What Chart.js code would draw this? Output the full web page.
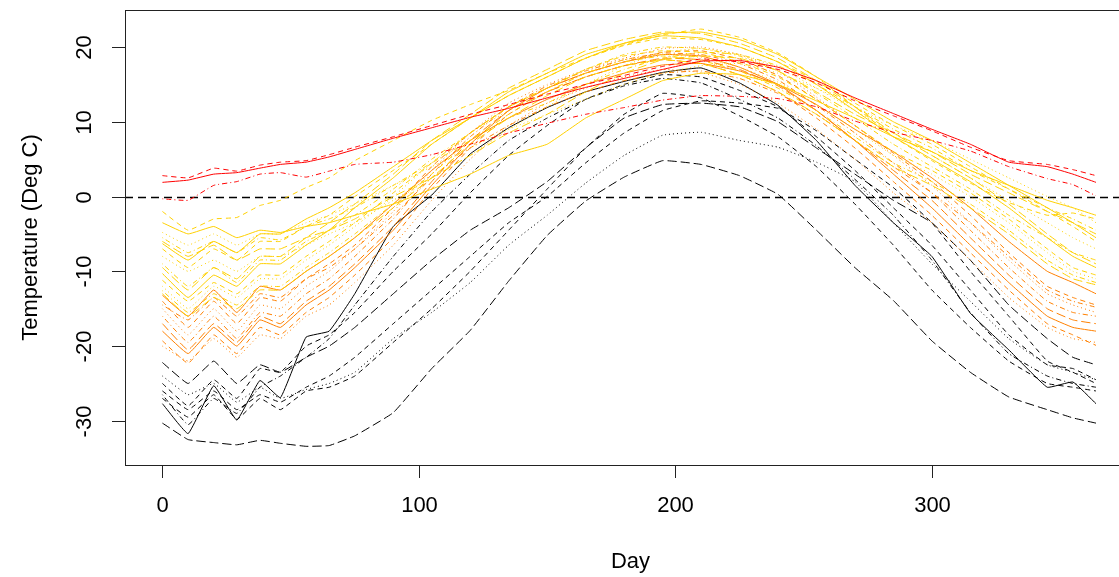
<!DOCTYPE html>
<html>
<head>
<meta charset="utf-8">
<script src="https://cdn.jsdelivr.net/npm/chart.js"></script>
<style>
  html, body { margin: 0; padding: 0; background: #fff; overflow: hidden; }
  #wrap { width: 1119px; height: 577px; overflow: hidden; }
</style>
</head>
<body>
<div id="wrap"><canvas id="c" width="1150" height="577"></canvas></div>
<script>
// sample days (x values shared by every curve)
const days = [0, 10, 20, 29, 38, 46, 56, 65, 75, 90, 105, 120, 135, 150, 165, 180, 195, 210, 225, 240, 255, 270, 285, 300, 315, 330, 345, 355, 364];

// red group
const victoria   = [1.9, 2.2, 3.0, 3.2, 3.8, 4.3, 4.6, 5.3, 6.3, 7.8, 9.2, 10.6, 11.8, 13.2, 14.6, 15.8, 17.0, 18.1, 18.2, 17.3, 15.5, 13.2, 11.1, 9.0, 7.0, 4.6, 4.0, 3.0, 1.9];
const vancouver  = [2.8, 2.5, 3.8, 3.4, 4.2, 4.6, 4.8, 5.6, 6.6, 8.0, 9.5, 11.0, 12.3, 13.7, 15.0, 16.2, 17.4, 18.4, 18.0, 17.0, 15.2, 12.8, 10.8, 8.8, 6.6, 4.8, 4.3, 3.6, 2.8];
const prRupert   = [-0.3, -0.5, 1.5, 2.0, 3.0, 3.2, 2.6, 3.4, 4.3, 4.6, 5.6, 7.0, 8.5, 9.8, 11.0, 11.9, 12.9, 13.5, 13.4, 13.1, 12.0, 10.1, 8.6, 7.5, 6.1, 4.0, 2.4, 1.6, 0.1];

// yellow group
const kamloops   = [-2.0, -4.5, -3.0, -2.8, -1.2, -0.5, 1.2, 2.5, 4.8, 7.5, 10.2, 12.3, 14.2, 16.5, 18.5, 20.3, 21.6, 22.4, 21.3, 19.2, 16.0, 12.0, 8.0, 4.8, 1.8, -0.8, -2.5, -2.2, -3.0];
const stJohns    = [-3.5, -5.0, -4.0, -5.5, -4.5, -4.8, -4.0, -3.5, -2.5, -1.0, 1.0, 3.0, 5.5, 7.0, 10.5, 13.0, 15.5, 16.5, 16.3, 15.0, 12.8, 10.5, 8.0, 6.0, 3.5, 1.5, -0.5, -1.5, -2.5];
const yarmouth   = [-4.8, -6.5, -5.0, -6.5, -5.0, -5.0, -3.5, -2.5, -1.0, 1.5, 4.0, 6.5, 9.0, 11.0, 13.0, 15.0, 16.5, 17.5, 17.8, 16.5, 14.5, 12.0, 9.5, 7.5, 5.0, 2.5, 0.0, -1.5, -3.5];
const halifax    = [-5.5, -7.5, -6.0, -7.5, -5.5, -5.8, -4.0, -3.0, -1.5, 1.5, 4.5, 7.5, 10.5, 12.5, 15.0, 17.0, 18.5, 19.3, 19.0, 17.5, 15.0, 12.0, 9.0, 6.5, 3.5, 1.0, -1.5, -3.0, -4.5];
const sydney     = [-6.0, -8.0, -6.5, -8.5, -7.0, -7.0, -5.5, -4.5, -3.0, 0.0, 2.5, 5.5, 8.5, 11.0, 14.0, 16.5, 18.3, 18.8, 18.5, 16.8, 14.0, 11.0, 8.5, 6.0, 3.0, 0.5, -2.0, -3.5, -5.0];
const toronto    = [-6.3, -8.5, -6.0, -7.5, -5.0, -5.0, -3.0, -1.5, 0.5, 4.0, 7.5, 10.5, 13.5, 16.0, 18.5, 20.5, 21.8, 22.0, 21.0, 19.0, 16.0, 13.0, 10.0, 7.5, 4.5, 1.5, -1.5, -3.5, -5.5];
const london     = [-7.0, -9.5, -7.0, -8.5, -6.0, -6.0, -4.0, -2.5, 0.0, 3.5, 7.0, 10.5, 13.5, 16.0, 18.5, 20.2, 21.2, 21.0, 20.0, 18.0, 15.5, 12.5, 9.5, 7.0, 4.0, 1.0, -2.0, -4.0, -6.0];
const charlottetown = [-8.0, -10.0, -8.5, -10.0, -8.0, -8.0, -6.5, -5.0, -3.5, -0.5, 2.5, 5.5, 9.0, 12.0, 15.0, 17.5, 19.3, 19.8, 19.0, 17.3, 14.5, 11.5, 8.5, 5.5, 2.5, -0.5, -3.5, -5.5, -7.0];
const fredericton = [-9.0, -12.0, -9.5, -11.5, -8.5, -8.5, -6.0, -4.5, -2.5, 1.0, 5.0, 8.5, 12.0, 14.5, 17.0, 19.0, 20.0, 19.8, 18.8, 16.8, 13.8, 10.5, 7.0, 4.0, 1.0, -2.5, -5.5, -7.5, -8.5];
const montreal   = [-9.5, -12.5, -9.5, -11.0, -8.0, -8.0, -5.5, -3.5, -1.0, 3.0, 7.5, 11.0, 14.5, 17.0, 19.5, 21.0, 22.0, 21.8, 20.5, 18.5, 15.5, 12.0, 8.5, 5.5, 2.5, -1.0, -5.0, -7.5, -9.0];
const ottawa     = [-10.3, -13.5, -10.5, -12.0, -9.0, -9.0, -6.5, -4.5, -1.5, 2.5, 7.0, 10.5, 14.0, 16.5, 19.0, 20.5, 21.5, 21.2, 20.0, 18.0, 15.0, 11.5, 8.0, 5.0, 2.0, -1.5, -5.5, -8.0, -9.5];
const quebec     = [-11.2, -14.0, -11.5, -13.0, -10.5, -10.5, -8.0, -6.0, -3.5, 0.5, 4.5, 8.5, 12.0, 14.5, 17.0, 18.8, 19.5, 19.3, 18.0, 16.0, 13.0, 9.5, 6.0, 3.5, 0.5, -3.0, -7.0, -9.5, -10.5];
const sherbrooke = [-12.0, -15.0, -12.0, -13.5, -11.0, -11.0, -8.5, -6.5, -4.0, 0.0, 4.5, 8.5, 11.5, 14.0, 16.5, 18.3, 19.0, 18.6, 17.3, 15.3, 12.3, 9.0, 5.5, 3.0, 0.0, -3.5, -7.5, -10.0, -11.0];
const arvida     = [-12.6, -15.5, -13.0, -14.5, -12.0, -12.0, -9.5, -7.5, -5.0, -1.0, 3.0, 7.5, 11.0, 14.0, 16.5, 18.0, 18.8, 18.2, 16.8, 14.5, 11.5, 8.0, 4.5, 2.0, -1.0, -4.5, -8.5, -10.5, -11.5];
const bagottville = [-13.0, -16.0, -13.5, -15.0, -12.5, -12.5, -10.0, -8.0, -5.5, -1.5, 2.5, 7.0, 10.5, 13.5, 16.0, 17.5, 18.3, 17.8, 16.3, 14.0, 11.0, 7.5, 4.0, 1.5, -1.5, -5.0, -9.0, -11.0, -11.8];

// orange group
const edmonton   = [-13.2, -16.0, -12.5, -15.5, -12.0, -12.5, -10.0, -8.0, -5.5, -1.0, 3.5, 7.5, 10.5, 13.0, 15.0, 16.5, 17.6, 17.8, 16.8, 15.0, 12.3, 9.0, 6.0, 2.5, -1.5, -6.0, -10.0, -11.5, -13.0];
const thunderBay = [-14.0, -17.5, -14.0, -17.0, -13.5, -14.0, -11.0, -9.0, -6.5, -1.5, 4.0, 8.5, 12.0, 14.5, 16.5, 18.0, 19.3, 19.5, 18.4, 16.2, 13.0, 9.5, 5.8, 2.0, -2.5, -7.5, -12.0, -13.5, -14.5];
const regina     = [-15.0, -18.5, -15.0, -18.0, -14.5, -15.0, -12.0, -10.0, -7.0, -2.0, 3.5, 8.5, 12.5, 15.0, 17.0, 18.5, 19.8, 20.0, 19.0, 16.8, 13.3, 9.5, 5.5, 1.5, -3.5, -8.5, -13.0, -14.5, -15.5];
const winnipeg   = [-16.0, -19.5, -16.0, -19.0, -15.5, -16.0, -13.0, -11.0, -8.0, -3.0, 3.0, 8.0, 12.0, 14.8, 16.8, 18.3, 19.2, 19.0, 17.8, 15.6, 12.2, 8.5, 4.5, 0.5, -4.5, -9.5, -14.0, -15.5, -16.0];
const prAlbert   = [-17.0, -20.5, -17.0, -19.5, -16.0, -17.0, -14.0, -12.0, -9.0, -4.0, 2.0, 7.5, 11.5, 14.0, 16.0, 17.5, 18.5, 18.3, 17.0, 14.8, 11.5, 7.5, 3.5, -0.5, -5.5, -10.5, -15.0, -16.5, -17.0];
const thePas     = [-18.0, -21.0, -17.5, -20.0, -16.5, -17.5, -14.5, -12.5, -9.5, -4.5, 1.5, 7.0, 11.5, 14.5, 16.5, 18.0, 19.0, 18.8, 17.3, 15.0, 11.5, 7.5, 3.0, -1.5, -6.5, -11.5, -16.0, -17.5, -18.0];
const kenora     = [-19.3, -22.3, -18.5, -21.0, -17.5, -18.5, -15.5, -13.5, -10.5, -5.5, 1.0, 6.5, 11.0, 14.0, 16.0, 17.5, 18.3, 17.8, 16.3, 14.0, 10.5, 6.5, 2.0, -2.5, -7.5, -12.5, -17.0, -18.5, -19.9];
const prGeorge   = [-20.0, -22.0, -19.0, -21.5, -18.5, -19.0, -16.0, -14.5, -11.5, -6.5, -0.5, 5.0, 9.5, 12.5, 14.5, 16.0, 17.0, 16.6, 15.0, 12.5, 9.0, 5.0, 0.5, -3.5, -8.5, -13.5, -17.5, -19.0, -19.5];
const calgary    = [-14.5, -16.5, -13.5, -16.0, -13.0, -13.5, -11.0, -9.5, -7.0, -2.5, 2.5, 6.5, 9.5, 12.0, 14.0, 15.5, 16.5, 16.8, 15.8, 13.8, 11.0, 7.5, 4.0, 0.5, -3.5, -8.0, -12.5, -14.0, -14.8];

// black group
const yellowknife = [-27.7, -31.7, -25.3, -29.9, -24.6, -26.9, -18.8, -18.0, -13.0, -4.0, 0.2, 5.7, 9.2, 11.9, 14.0, 15.4, 16.6, 17.2, 15.2, 12.2, 7.5, 1.5, -3.5, -8.0, -15.6, -20.5, -25.5, -24.8, -27.7];
const uraniumCity = [-25.0, -28.0, -24.5, -27.0, -23.0, -23.5, -20.0, -18.5, -15.5, -10.0, -5.0, 0.5, 5.5, 9.5, 13.0, 15.0, 16.3, 16.0, 14.2, 12.0, 8.0, 3.5, -1.5, -6.5, -12.5, -18.5, -22.5, -23.0, -24.5];
const dawson     = [-26.5, -30.5, -27.0, -29.0, -25.5, -24.0, -21.5, -19.0, -14.5, -8.0, -2.0, 3.0, 7.5, 10.5, 13.0, 14.8, 15.8, 15.2, 13.0, 10.5, 6.8, 2.3, -2.5, -8.5, -15.5, -21.0, -24.0, -25.0, -25.5];
const inuvik     = [-27.0, -29.5, -26.5, -29.8, -27.0, -28.5, -26.0, -25.5, -24.0, -19.5, -15.0, -10.0, -4.5, 1.0, 6.5, 11.0, 13.8, 13.2, 10.8, 8.0, 4.0, -1.0, -6.5, -12.5, -17.5, -22.0, -25.0, -25.5, -26.0];
const churchill  = [-26.0, -28.5, -26.0, -28.5, -26.5, -27.5, -25.5, -24.0, -21.5, -17.0, -12.5, -8.0, -3.5, 0.0, 4.5, 8.5, 11.5, 12.8, 12.5, 11.8, 8.8, 5.0, 1.2, -3.5, -10.0, -16.0, -22.0, -23.5, -25.0];
const schefferville = [-22.2, -25.0, -22.0, -25.0, -22.5, -23.5, -21.5, -20.0, -17.5, -13.0, -8.5, -4.5, -1.5, 2.0, 6.5, 10.5, 12.3, 12.5, 12.0, 10.0, 6.5, 3.0, -0.5, -3.5, -8.5, -14.5, -19.0, -21.5, -22.5];
const iqaluit    = [-24.0, -26.5, -25.0, -27.5, -25.5, -27.0, -25.8, -25.0, -23.5, -19.0, -15.5, -11.5, -6.5, -2.5, 1.8, 5.5, 8.2, 8.6, 7.5, 6.6, 4.6, 2.0, -3.5, -9.0, -14.0, -19.0, -22.5, -23.5, -24.5];
const resolute   = [-30.3, -32.5, -32.9, -33.2, -32.6, -33.0, -33.4, -33.3, -32.0, -28.9, -23.0, -17.9, -11.3, -5.2, -0.6, 2.6, 4.8, 4.3, 2.8, 0.3, -4.5, -9.5, -13.9, -19.3, -23.5, -26.8, -28.5, -29.6, -30.3];

const xTicks = [0, 100, 200, 300];
const yTicks = [-30, -20, -10, 0, 10, 20];

const RED = '#ff0000', YEL = '#ffd000', ORA = '#ff8000', BLK = '#000000';
const DASH = { solid: [], dashed: [5, 4], dotted: [1, 3], dotdash: [1, 3, 5, 3], longdash: [9, 4] };
const LTY = ['solid', 'dashed', 'dotted', 'dotdash', 'longdash'];

const series = [
  [victoria, RED], [vancouver, RED], [prRupert, RED],
  [kamloops, YEL], [stJohns, YEL], [yarmouth, YEL], [halifax, YEL], [sydney, YEL],
  [toronto, YEL], [london, YEL], [charlottetown, YEL], [fredericton, YEL], [montreal, YEL],
  [ottawa, YEL], [quebec, YEL], [sherbrooke, YEL], [arvida, YEL], [bagottville, YEL],
  [edmonton, ORA], [thunderBay, ORA], [regina, ORA], [winnipeg, ORA], [prAlbert, ORA],
  [thePas, ORA], [kenora, ORA], [prGeorge, ORA], [calgary, ORA],
  [yellowknife, BLK], [uraniumCity, BLK], [dawson, BLK], [inuvik, BLK], [churchill, BLK],
  [schefferville, BLK], [iqaluit, BLK], [resolute, BLK]
];
// line type index per series, in the order above
const ltyIndex = [0, 1, 3,  1, 0, 2, 3, 4, 0, 1, 2, 3, 4, 0, 1, 2, 3, 4,  0, 1, 2, 3, 4, 0, 1, 2, 3,  0, 1, 3, 1, 1, 4, 2, 4];

const datasets = series.map(([vals, col], i) => ({
  data: vals.map((v, j) => ({ x: days[j], y: v })),
  borderColor: col,
  borderWidth: 1,
  borderDash: DASH[LTY[ltyIndex[i]]],
  pointRadius: 0,
  tension: 0.1,
  fill: false
}));

const FONT = '22px "Liberation Sans", Arial, sans-serif';

const axesPlugin = {
  id: 'rAxes',
  beforeDatasetsDraw(chart) {
    const { ctx, chartArea: a, scales: { y } } = chart;
    ctx.save();
    // abline(h = 0, lty = 2)
    const y0 = Math.round(y.getPixelForValue(0)) + 0.5;
    ctx.strokeStyle = '#000';
    ctx.lineWidth = 1.6;
    ctx.setLineDash([8, 5]);
    ctx.beginPath();
    ctx.moveTo(a.left, y0);
    ctx.lineTo(a.right, y0);
    ctx.stroke();
    ctx.restore();
  },
  afterDraw(chart) {
    const { ctx, chartArea: a, scales: { x, y } } = chart;
    ctx.save();
    ctx.strokeStyle = '#222';
    ctx.lineWidth = 1;
    ctx.strokeRect(Math.round(a.left) + 0.5, Math.round(a.top) + 0.5,
                   Math.round(a.right - a.left), Math.round(a.bottom - a.top));
    ctx.fillStyle = '#000';
    ctx.font = FONT;
    // x ticks
    ctx.textAlign = 'center';
    ctx.textBaseline = 'middle';
    xTicks.forEach(t => {
      const px = Math.round(x.getPixelForValue(t)) + 0.5;
      ctx.beginPath();
      ctx.moveTo(px, a.bottom);
      ctx.lineTo(px, a.bottom + 13);
      ctx.stroke();
      ctx.fillText(String(t), px, a.bottom + 41);
    });
    // y ticks, rotated labels
    yTicks.forEach(t => {
      const py = Math.round(y.getPixelForValue(t)) + 0.5;
      ctx.beginPath();
      ctx.moveTo(a.left - 13, py);
      ctx.lineTo(a.left, py);
      ctx.stroke();
      ctx.save();
      ctx.translate(a.left - 40, py);
      ctx.rotate(-Math.PI / 2);
      ctx.fillText(String(t), 0, 0);
      ctx.restore();
    });
    // axis titles
    ctx.fillText('Day', (a.left + a.right) / 2, 562);
    ctx.save();
    ctx.translate(31, (a.top + a.bottom) / 2);
    ctx.rotate(-Math.PI / 2);
    ctx.fillText('Temperature (Deg C)', 0, 0);
    ctx.restore();
    ctx.restore();
  }
};

new Chart(document.getElementById('c'), {
  type: 'line',
  data: { datasets },
  options: {
    responsive: false,
    animation: false,
    layout: { padding: { left: 125, right: 14, top: 10, bottom: 112 } },
    plugins: { legend: { display: false }, tooltip: { enabled: false } },
    scales: {
      x: { type: 'linear', min: -14.6, max: 379.6, display: false },
      y: { type: 'linear', min: -35.9, max: 24.95, display: false }
    }
  },
  plugins: [axesPlugin]
});
</script>
</body>
</html>
